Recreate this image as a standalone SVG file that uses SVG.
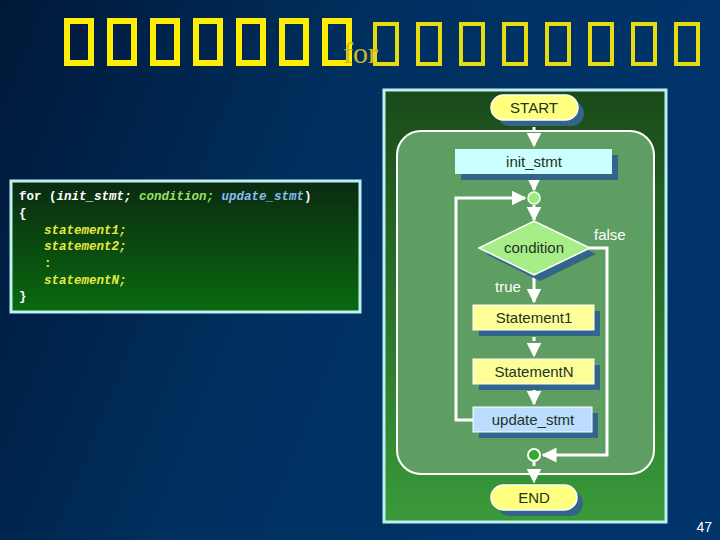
<svg xmlns="http://www.w3.org/2000/svg" width="720" height="540" viewBox="0 0 720 540">
<defs>
<linearGradient id="bg" x1="0" y1="0" x2="1" y2="0.3"><stop offset="0" stop-color="#001838"/><stop offset="0.5" stop-color="#003060"/><stop offset="1" stop-color="#00346a"/></linearGradient>
<linearGradient id="code" x1="0" y1="0" x2="0" y2="1"><stop offset="0" stop-color="#0a2a10"/><stop offset="1" stop-color="#0a6a10"/></linearGradient>
<linearGradient id="panel" x1="0" y1="0" x2="0" y2="1"><stop offset="0" stop-color="#1a4a1a"/><stop offset="1" stop-color="#3a9a3a"/></linearGradient>
<marker id="ah" viewBox="0 0 10 10" refX="9" refY="5" markerWidth="5" markerHeight="5" orient="auto"><path d="M0,0 L10,5 L0,10 z" fill="#ffffff"/></marker>
</defs>
<style>
.tofu{fill:none;stroke:#ffee00;stroke-width:6}
.tofu2{fill:none;stroke:#e8dc10;stroke-width:4}
.code{font-family:"Liberation Mono",monospace;font-size:12.5px;font-weight:bold}
.lbl{font-family:"Liberation Sans",Arial,sans-serif;font-size:15px;fill:#223322;text-anchor:middle}
.wl{font-family:"Liberation Sans",Arial,sans-serif;font-size:15px;fill:#ffffff}
.sh{fill:#33658a}
.ln{fill:none;stroke:#ffffff;stroke-width:3}
.ds{fill:none;stroke:#ffffff;stroke-width:3;stroke-dasharray:4 3}
</style>
<rect width="720" height="540" fill="url(#bg)"/>
<g id="title">
<rect class="tofu" x="67" y="21" width="24" height="42"/><rect class="tofu" x="110" y="21" width="24" height="42"/><rect class="tofu" x="153" y="21" width="24" height="42"/><rect class="tofu" x="196" y="21" width="24" height="42"/><rect class="tofu" x="239" y="21" width="24" height="42"/><rect class="tofu" x="282" y="21" width="24" height="42"/><rect class="tofu" x="325" y="21" width="24" height="42"/>
<rect class="tofu2" x="375" y="24" width="22" height="40"/><rect class="tofu2" x="418" y="24" width="22" height="40"/><rect class="tofu2" x="461" y="24" width="22" height="40"/><rect class="tofu2" x="504" y="24" width="22" height="40"/><rect class="tofu2" x="547" y="24" width="22" height="40"/><rect class="tofu2" x="590" y="24" width="22" height="40"/><rect class="tofu2" x="633" y="24" width="22" height="40"/><rect class="tofu2" x="676" y="24" width="22" height="40"/>
<text x="343" y="63" font-family="Liberation Serif,serif" font-size="30" fill="#c8b830">for</text>
</g>
<g id="code">
<rect x="11" y="181" width="349" height="131" fill="url(#code)" stroke="#bff0f0" stroke-width="3"/>
<text class="code" x="19" y="200" fill="#ffffff">for (<tspan font-style="italic">init_stmt; </tspan><tspan font-style="italic" fill="#99e066">condition; </tspan><tspan font-style="italic" fill="#88bbee">update_stmt</tspan>)</text>
<text class="code" x="19" y="217" fill="#ffffff">{</text>
<text class="code" x="44" y="234" fill="#e8e840" font-style="italic">statement1;</text>
<text class="code" x="44" y="250" fill="#e8e840" font-style="italic">statement2;</text>
<text class="code" x="44" y="267" fill="#e8e840">:</text>
<text class="code" x="44" y="284" fill="#e8e840" font-style="italic">statementN;</text>
<text class="code" x="19" y="300" fill="#ffffff">}</text>
</g>
<g id="panel">
<rect x="384" y="90" width="282" height="432" fill="url(#panel)" stroke="#bff0f0" stroke-width="3"/>
<rect x="397" y="131" width="257" height="343" rx="24" fill="#5e9e62" stroke="#ffffff" stroke-width="2"/>
</g>
<g id="connectors">
<path class="ds" d="M534,120 V146" marker-end="url(#ah)"/>
<path class="ln" d="M534,174 V190" marker-end="url(#ah)"/>
<path class="ln" d="M534,205 V220" marker-end="url(#ah)"/>
<path class="ln" d="M534,274 V302" marker-end="url(#ah)"/>
<path class="ds" d="M534,330 V356" marker-end="url(#ah)"/>
<path class="ln" d="M534,384 V404" marker-end="url(#ah)"/>
<path class="ln" d="M473,420 H456 V198 H525" marker-end="url(#ah)"/>
<path class="ln" d="M589,248 H607 V455 H543" marker-end="url(#ah)"/>
<path class="ds" d="M534,462 V482" marker-end="url(#ah)"/>
</g>
<g id="start"><rect class="sh" x="497" y="101" width="87" height="25" rx="12.5"/><rect x="491" y="95" width="87" height="25" rx="12.5" fill="#ffff80" stroke="#ffffff" stroke-width="1.5"/><text class="lbl" x="534" y="113" fill="#000">START</text></g>
<g id="init"><rect class="sh" x="461" y="155" width="157" height="25"/><rect x="455" y="149" width="157" height="25" fill="#ccffff"/><text class="lbl" x="534" y="167">init_stmt</text></g>
<g id="join1"><circle cx="534" cy="198" r="6" fill="#99ee77" stroke="#ffffff" stroke-width="1.5"/></g>
<g id="cond"><path class="sh" d="M486,254 L540,227 L596,254 L540,281 z"/><path d="M479,248 L534,221 L590,248 L534,275 z" fill="#a8ee88" stroke="#ffffff" stroke-width="1.5"/><text class="lbl" x="534" y="253" fill="#1a4a1a">condition</text></g>
<text class="wl" x="594" y="240">false</text>
<text class="wl" x="495" y="292">true</text>
<g id="s1"><rect class="sh" x="479" y="311" width="121" height="25"/><rect x="473" y="305" width="121" height="25" fill="#ffff99" stroke="#ffffff"/><text class="lbl" x="534" y="323">Statement1</text></g>
<g id="sn"><rect class="sh" x="479" y="365" width="121" height="25"/><rect x="473" y="359" width="121" height="25" fill="#ffff99" stroke="#ffffff"/><text class="lbl" x="534" y="377">StatementN</text></g>
<g id="upd"><rect class="sh" x="479" y="413" width="119" height="25"/><rect x="473" y="407" width="119" height="25" fill="#bbddff" stroke="#ffffff"/><text class="lbl" x="533" y="425" fill="#113355">update_stmt</text></g>
<g id="join2"><circle cx="534" cy="455" r="6" fill="#33aa33" stroke="#ffffff" stroke-width="2"/></g>
<g id="end"><rect class="sh" x="497" y="491" width="86" height="25" rx="12.5"/><rect x="491" y="485" width="86" height="25" rx="12.5" fill="#ffff80" stroke="#ffffff" stroke-width="1.5"/><text class="lbl" x="534" y="503" fill="#000">END</text></g>
<text x="712" y="532" font-family="Liberation Sans,sans-serif" font-size="14" fill="#ffffff" text-anchor="end">47</text>
</svg>
